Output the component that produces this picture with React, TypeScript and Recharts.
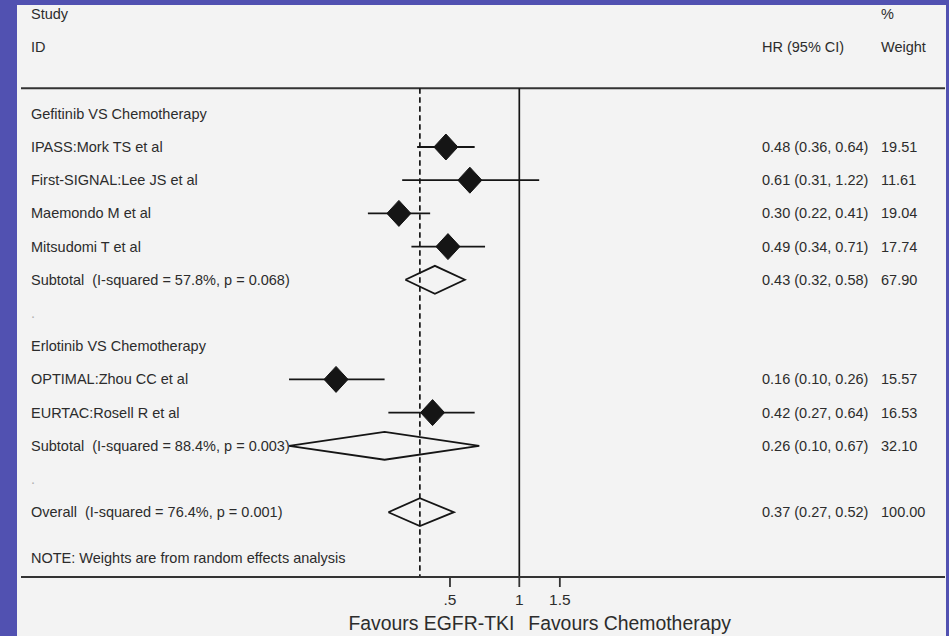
import React from 'react';
import { ScatterChart, XAxis, YAxis, Scatter, ReferenceLine } from 'recharts';

// ---- Individual trials ----
const studyNames = [
  'IPASS:Mork TS et al',
  'First-SIGNAL:Lee JS et al',
  'Maemondo M et al',
  'Mitsudomi T et al',
  'OPTIMAL:Zhou CC et al',
  'EURTAC:Rosell R et al',
];
const studyHR = [0.48, 0.61, 0.3, 0.49, 0.16, 0.42];
const studyLow = [0.36, 0.31, 0.22, 0.34, 0.1, 0.27];
const studyHigh = [0.64, 1.22, 0.41, 0.71, 0.26, 0.64];
const studyWeight = ['19.51', '11.61', '19.04', '17.74', '15.57', '16.53'];
const studyRows = [1, 2, 3, 4, 8, 9];

// ---- Pooled estimates (random effects) ----
const pooledNames = [
  'Subtotal  (I-squared = 57.8%, p = 0.068)',
  'Subtotal  (I-squared = 88.4%, p = 0.003)',
  'Overall  (I-squared = 76.4%, p = 0.001)',
];
const pooledHR = [0.43, 0.26, 0.37];
const pooledLow = [0.32, 0.1, 0.27];
const pooledHigh = [0.58, 0.67, 0.52];
const pooledWeight = ['67.90', '32.10', '100.00'];
const pooledRows = [5, 10, 12];

// ---- Group headings and spacer rows ----
const groupNames = ['Gefitinib VS Chemotherapy', 'Erlotinib VS Chemotherapy'];
const groupRows = [0, 7];
const spacerRows = [6, 11];

const noteText = 'NOTE: Weights are from random effects analysis';
const xTicks = [0.5, 1, 1.5];
const xTickLabels = ['.5', '1', '1.5'];
const favoursLeft = 'Favours EGFR-TKI';
const favoursRight = 'Favours Chemotherapy';

// ---- Layout ----
const PURPLE = '#5151b1';
const PANEL = '#f3f3f3';
const INK = '#2c2c2c';
const MARK = '#151515';
const FONT = '"Liberation Sans", Arial, Helvetica, sans-serif';
const FONT_SIZE = 14.5;
const TICK_SIZE = 15.5;
const TITLE_SIZE = 19.4;

const CHART_W = 929;
const CHART_H = 631;
const MARGIN = { top: 0, right: 1, left: 3, bottom: 0 };
const Y_AXIS_W = 1;
const X_AXIS_H = 59;
const PLOT_LEFT = MARGIN.left + Y_AXIS_W;
const PLOT_RIGHT = CHART_W - MARGIN.right;
const PLOT_BOTTOM = CHART_H - X_AXIS_H;

// log-scale geometry: pixel of HR = 1 and pixels per natural-log unit
const NULL_PX = 502.3;
const PX_PER_LN = 100;
const X_DOMAIN = [
  Math.exp((PLOT_LEFT - NULL_PX) / PX_PER_LN),
  Math.exp((PLOT_RIGHT - NULL_PX) / PX_PER_LN),
];

// row geometry
const FIRST_ROW_PX = 108.8;
const ROW_PX = 33.2;
const Y_DOMAIN = [(0 - FIRST_ROW_PX) / ROW_PX, (PLOT_BOTTOM - FIRST_ROW_PX) / ROW_PX];
const STUDY_HEADER_ROW = -3;
const ID_HEADER_ROW = -2;
const RULE_ROW = -0.77;
const NOTE_ROW = 13.38;

const COL_LABEL_X = 14;
const COL_HR_X = 745;
const COL_WT_X = 864;

const DIAMOND_HALF_H = 0.42; // in row units
const MARKER_HALF_W = 12;
const MARKER_HALF_H = 13;

const fmt = (v: number) => v.toFixed(2);

type RowText = { label?: string; hr?: string; wt?: string; faint?: boolean };
const rowTable = new Map<number, RowText>();
rowTable.set(STUDY_HEADER_ROW, { label: 'Study', wt: '%' });
rowTable.set(ID_HEADER_ROW, { label: 'ID', hr: 'HR (95% CI)', wt: 'Weight' });
groupNames.forEach((g, i) => rowTable.set(groupRows[i], { label: g }));
spacerRows.forEach((r) => rowTable.set(r, { label: '.', faint: true }));
studyNames.forEach((n, i) =>
  rowTable.set(studyRows[i], {
    label: n,
    hr: `${fmt(studyHR[i])} (${fmt(studyLow[i])}, ${fmt(studyHigh[i])})`,
    wt: studyWeight[i],
  })
);
pooledNames.forEach((n, i) =>
  rowTable.set(pooledRows[i], {
    label: n,
    hr: `${fmt(pooledHR[i])} (${fmt(pooledLow[i])}, ${fmt(pooledHigh[i])})`,
    wt: pooledWeight[i],
  })
);
rowTable.set(NOTE_ROW, { label: noteText });
const rowTicks = Array.from(rowTable.keys()).sort((a, b) => a - b);

const studyPoints = studyHR.map((hr, i) => ({ x: hr, y: studyRows[i] }));
const pooledOutlines = pooledHR.map((hr, i) => {
  const r = pooledRows[i];
  return [
    { x: pooledLow[i], y: r },
    { x: hr, y: r - DIAMOND_HALF_H },
    { x: pooledHigh[i], y: r },
    { x: hr, y: r + DIAMOND_HALF_H },
    { x: pooledLow[i], y: r },
  ];
});
const overallHR = pooledHR[pooledHR.length - 1];

const SvgText = (p: {
  x: number;
  y: number;
  dy?: string;
  anchor?: 'start' | 'middle' | 'end';
  size?: number;
  fill?: string;
  children: React.ReactNode;
}) => (
  <text
    x={p.x}
    y={p.y}
    dy={p.dy}
    textAnchor={p.anchor ?? 'start'}
    fontFamily={FONT}
    fontSize={p.size ?? FONT_SIZE}
    fill={p.fill ?? INK}
    stroke="none"
    style={{ whiteSpace: 'pre', fontSize: p.size ?? FONT_SIZE, fontFamily: FONT }}
  >
    {p.children}
  </text>
);

const RowTick = (props: any) => {
  const { y, payload } = props;
  const row = rowTable.get(payload.value);
  if (!row) return <g />;
  return (
    <g>
      {row.label && (
        <SvgText x={COL_LABEL_X} y={y} dy="0.35em" fill={row.faint ? '#b0b0b0' : INK}>
          {row.label}
        </SvgText>
      )}
      {row.hr && (
        <SvgText x={COL_HR_X} y={y} dy="0.35em">
          {row.hr}
        </SvgText>
      )}
      {row.wt && (
        <SvgText x={COL_WT_X} y={y} dy="0.35em">
          {row.wt}
        </SvgText>
      )}
    </g>
  );
};

const AxisTick = (props: any) => {
  const { x, y, payload } = props;
  const idx = xTicks.indexOf(payload.value);
  return (
    <g>
      <SvgText x={x} y={y} dy="0.71em" anchor="middle" size={TICK_SIZE}>
        {xTickLabels[idx]}
      </SvgText>
      {payload.value === 1 && (
        <g>
          <SvgText x={x - 5} y={y + 36} anchor="end" size={TITLE_SIZE}>
            {favoursLeft}
          </SvgText>
          <SvgText x={x + 9} y={y + 36} anchor="start" size={TITLE_SIZE}>
            {favoursRight}
          </SvgText>
        </g>
      )}
    </g>
  );
};

const FilledDiamond = (props: any) => {
  const { cx, cy } = props;
  if (cx == null || cy == null) return <g />;
  const pts = `${cx - MARKER_HALF_W},${cy} ${cx},${cy - MARKER_HALF_H} ${cx + MARKER_HALF_W},${cy} ${cx},${cy + MARKER_HALF_H}`;
  return <polygon points={pts} fill={MARK} stroke={MARK} strokeWidth={1} />;
};

const NoDot = () => <g />;

export default function App() {
  return (
    <div
      style={{
        position: 'absolute',
        left: 0,
        top: 0,
        width: 949,
        height: 636,
        background: PURPLE,
        overflow: 'hidden',
      }}
    >
      <div style={{ position: 'absolute', left: 17, top: 5, width: CHART_W, height: CHART_H, background: PANEL }}>
        <ScatterChart width={CHART_W} height={CHART_H} margin={MARGIN}>
          <XAxis
            type="number"
            dataKey="x"
            scale="log"
            domain={X_DOMAIN}
            allowDataOverflow
            ticks={xTicks}
            interval={0}
            height={X_AXIS_H}
            tickSize={10}
            tickMargin={7}
            axisLine={{ stroke: '#333', strokeWidth: 2.2 }}
            tickLine={{ stroke: '#333', strokeWidth: 1.8 }}
            tick={<AxisTick />}
          />
          <YAxis
            type="number"
            dataKey="y"
            domain={Y_DOMAIN}
            allowDataOverflow
            reversed
            width={Y_AXIS_W}
            ticks={rowTicks}
            interval={0}
            axisLine={false}
            tickLine={false}
            tick={<RowTick />}
          />

          {/* rule under the column headings */}
          <ReferenceLine y={RULE_ROW} stroke="#333" strokeWidth={2.2} />

          {/* line of no effect and pooled overall estimate */}
          <ReferenceLine
            segment={[
              { x: 1, y: RULE_ROW },
              { x: 1, y: Y_DOMAIN[1] },
            ]}
            stroke={MARK}
            strokeWidth={1.7}
          />
          <ReferenceLine
            segment={[
              { x: overallHR, y: RULE_ROW },
              { x: overallHR, y: Y_DOMAIN[1] },
            ]}
            stroke={MARK}
            strokeWidth={1.7}
            strokeDasharray="5.5 3.5"
          />

          {/* confidence intervals of individual trials */}
          {studyHR.map((_, i) => (
            <ReferenceLine
              key={`ci-${i}`}
              segment={[
                { x: studyLow[i], y: studyRows[i] },
                { x: studyHigh[i], y: studyRows[i] },
              ]}
              stroke={MARK}
              strokeWidth={1.8}
            />
          ))}

          {/* pooled diamonds */}
          {pooledOutlines.map((pts, i) => (
            <Scatter
              key={`pooled-${i}`}
              data={pts}
              line={{ stroke: MARK, strokeWidth: 1.8, fill: 'none' }}
              lineType="joint"
              shape={<NoDot />}
              isAnimationActive={false}
            />
          ))}

          {/* point estimates of individual trials */}
          <Scatter data={studyPoints} shape={<FilledDiamond />} isAnimationActive={false} />
        </ScatterChart>
      </div>
    </div>
  );
}
